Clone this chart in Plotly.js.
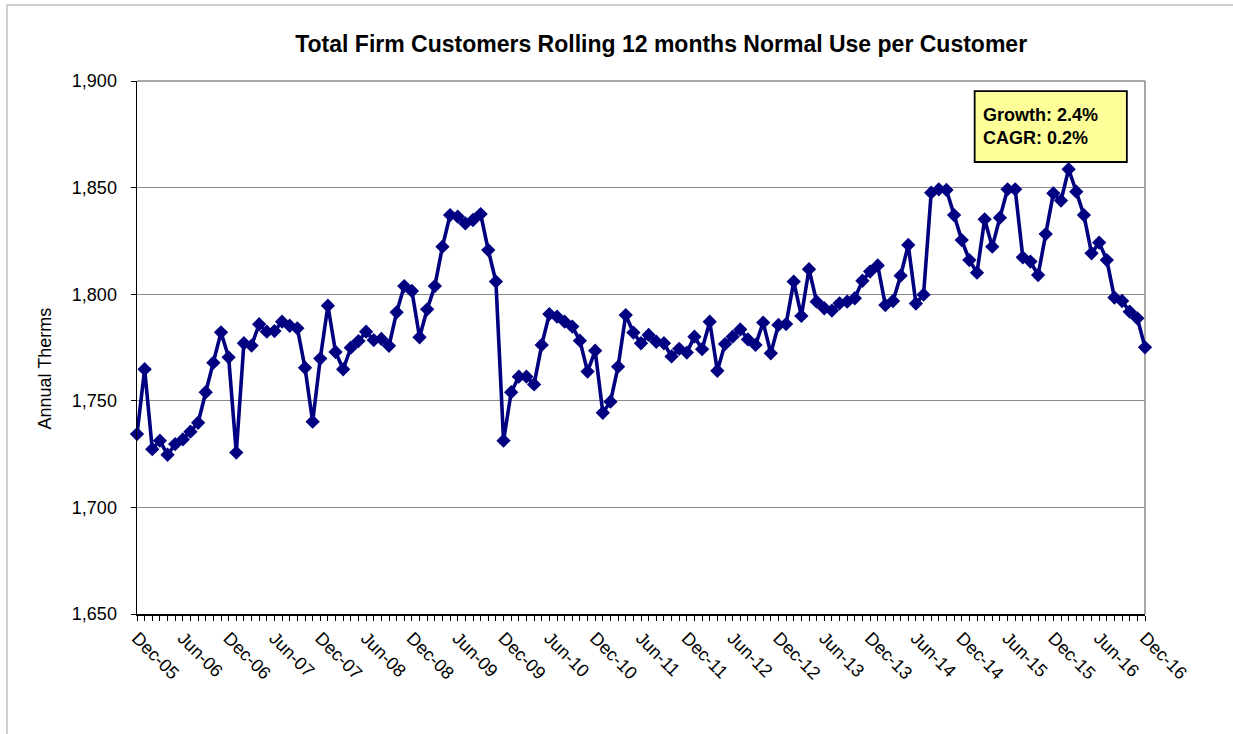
<!DOCTYPE html>
<html>
<head>
<meta charset="utf-8">
<script src="https://cdn.plot.ly/plotly-3.0.1.min.js"></script>
<style>html,body{margin:0;padding:0;background:#fff;}#chart{width:1233px;height:734px;}</style>
</head>
<body>
<div id="chart"></div>
<script>
// Monthly values Dec-05 .. Dec-16 (133 months)
const usePerCustomer = [
  1734.4, 1764.8, 1727.3, 1731.3, 1724.7, 1729.7, 1731.9, 1735.5, 1739.7, 1754.0, 1767.9, 1782.1,
  1770.4, 1725.7, 1777.0, 1775.9, 1785.9, 1782.4, 1782.7, 1787.1, 1785.2, 1784.0, 1765.5, 1740.2,
  1769.8, 1794.6, 1772.9, 1764.8, 1774.9, 1778.0, 1782.4, 1778.5, 1779.0, 1775.8, 1791.5, 1803.8,
  1801.5, 1779.8, 1792.9, 1803.8, 1822.3, 1837.1, 1836.4, 1833.2, 1834.8, 1837.6, 1820.7, 1805.9,
  1731.3, 1754.0, 1761.3, 1761.3, 1757.7, 1776.2, 1790.7, 1789.5, 1787.1, 1784.8, 1778.2, 1763.7,
  1773.5, 1744.4, 1749.6, 1766.0, 1790.2, 1782.0, 1777.0, 1780.9, 1777.7, 1777.0, 1770.8, 1774.4,
  1772.6, 1780.1, 1774.2, 1787.1, 1764.1, 1776.6, 1780.1, 1783.5, 1778.8, 1776.2, 1786.7, 1772.3,
  1785.6, 1786.0, 1805.9, 1789.8, 1811.7, 1796.5, 1793.4, 1792.3, 1795.7, 1796.5, 1798.1, 1806.3,
  1810.6, 1813.5, 1794.9, 1796.8, 1808.7, 1823.1, 1795.6, 1799.8, 1847.6, 1849.2, 1848.9, 1837.1,
  1825.4, 1816.0, 1810.1, 1835.1, 1822.3, 1835.9, 1849.2, 1849.2, 1817.3, 1815.3, 1809.0, 1828.2,
  1847.3, 1843.9, 1858.6, 1848.1, 1837.1, 1819.2, 1824.2, 1816.0, 1798.4, 1796.8, 1791.8, 1788.7,
  1775.1
];
// Tick labels every 6 months
const tickLabels = ["Dec-05","Jun-06","Dec-06","Jun-07","Dec-07","Jun-08","Dec-08","Jun-09",
  "Dec-09","Jun-10","Dec-10","Jun-11","Dec-11","Jun-12","Dec-12","Jun-13","Dec-13","Jun-14",
  "Dec-14","Jun-15","Dec-15","Jun-16","Dec-16"];
const labelStep = 6;
const monthIndex = usePerCustomer.map((v, i) => i);
const tickPositions = tickLabels.map((t, i) => i * labelStep);
const annotationLines = ["Growth: 2.4%", "CAGR: 0.2%"];

const FONT = 'Arial, "Liberation Sans", sans-serif';

const trace = {
  x: monthIndex,
  y: usePerCustomer,
  type: 'scatter',
  mode: 'lines+markers',
  cliponaxis: false,
  line: {color: '#000080', width: 3.6},
  marker: {symbol: 'diamond', size: 11, color: '#000080'},
  hoverinfo: 'y'
};

const layout = {
  width: 1233, height: 734,
  margin: {l: 137, r: 88, t: 81, b: 120},
  paper_bgcolor: '#ffffff', plot_bgcolor: '#ffffff',
  showlegend: false,
  font: {family: FONT, color: '#000'},
  title: {
    text: '<b>Total Firm Customers Rolling 12 months Normal Use per Customer</b>',
    font: {size: 23, family: FONT, color: '#000'},
    x: 0.52, xref: 'paper', xanchor: 'center',
    y: 0.94, yref: 'container', yanchor: 'middle'
  },
  xaxis: {
    range: [0, usePerCustomer.length - 1],
    tickmode: 'array', tickvals: tickPositions, ticktext: tickLabels,
    tickangle: 45,
    ticks: 'outside', ticklen: 5, tickcolor: '#000', tickwidth: 1,
    minor: {dtick: 1, tick0: 0, ticks: 'outside', ticklen: 5, tickcolor: '#000', tickwidth: 1, showgrid: false},
    tickfont: {size: 18},
    showgrid: false, zeroline: false,
    showline: true, linecolor: '#000', linewidth: 1.5,
    mirror: false, fixedrange: true
  },
  yaxis: {
    range: [1650, 1900], dtick: 50, tick0: 1650,
    tickformat: ',d',
    ticks: 'outside', ticklen: 5, tickcolor: '#000',
    ticklabelstandoff: 10,
    tickfont: {size: 18},
    showgrid: true, gridcolor: '#8a8a8a', gridwidth: 1,
    zeroline: false,
    showline: true, linecolor: '#000', linewidth: 1.5,
    fixedrange: true
  },
  shapes: [
    {type: 'line', xref: 'paper', yref: 'paper', x0: 0, x1: 1, y0: 1, y1: 1, line: {color: '#8a8a8a', width: 1.5}, layer: 'below'},
    {type: 'line', xref: 'paper', yref: 'paper', x0: 1, x1: 1, y0: 0, y1: 1, line: {color: '#8a8a8a', width: 1.5}, layer: 'below'},
    {type: 'line', xref: 'paper', yref: 'paper', x0: -0.129, x1: 1.088, y0: 1.1426, y1: 1.1426, line: {color: '#a0a0a0', width: 1}},
    {type: 'line', xref: 'paper', yref: 'paper', x0: -0.129, x1: -0.129, y0: 1.1426, y1: -0.3, line: {color: '#a0a0a0', width: 1}},
    {type: 'rect', xref: 'paper', yref: 'paper', x0: 0.831, x1: 0.982, y0: 0.848, y1: 0.981,
     fillcolor: '#FFFF99', line: {color: '#000', width: 1.8}, layer: 'above'}
  ],
  annotations: [
    {text: 'Annual Therms', xref: 'paper', yref: 'paper', x: -0.0913, y: (614 - 368.5) / 533,
     textangle: -90, showarrow: false, font: {size: 18}, xanchor: 'center', yanchor: 'middle'},
    {text: '<b>' + annotationLines.join('<br>') + '</b>', xref: 'paper', yref: 'paper',
     x: 0.837, y: 0.9145, xanchor: 'left', yanchor: 'middle', align: 'left',
     showarrow: false, font: {size: 18, color: '#000'}}
  ]
};

Plotly.newPlot('chart', [trace], layout, {displayModeBar: false, staticPlot: true});
</script>
</body>
</html>
